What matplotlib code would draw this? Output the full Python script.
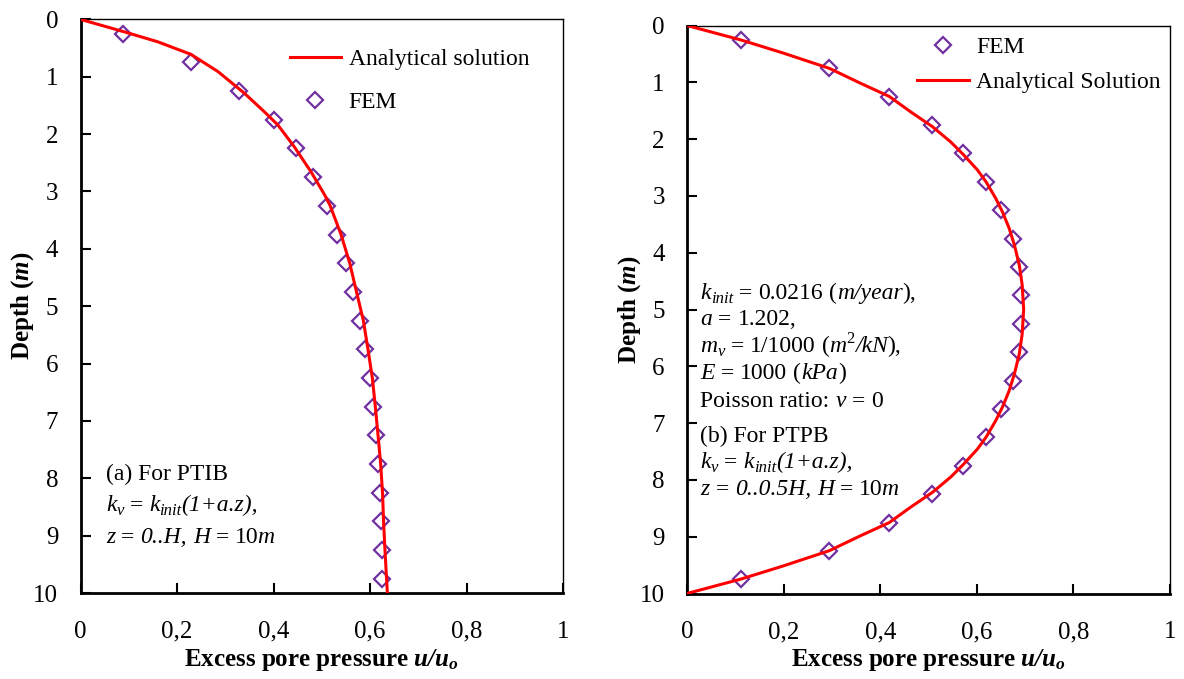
import matplotlib
matplotlib.use("Agg")
import matplotlib.pyplot as plt
from matplotlib.font_manager import FontProperties, findfont, get_font
from matplotlib.transforms import IdentityTransform

plt.rcParams['font.family'] = ['Liberation Serif', 'DejaVu Serif']
plt.rcParams['mathtext.fontset'] = 'custom'
plt.rcParams['mathtext.rm'] = 'Liberation Serif'
plt.rcParams['mathtext.it'] = 'Liberation Serif:italic'
plt.rcParams['mathtext.bf'] = 'Liberation Serif:bold'
plt.rcParams['mathtext.bfit'] = 'Liberation Serif:bold:italic'

# ---- data -------------------------------------------------------------
# FEM nodes (mid-element depths, m)
fem_depth = [0.25, 0.75, 1.25, 1.75, 2.25, 2.75, 3.25, 3.75, 4.25, 4.75,
             5.25, 5.75, 6.25, 6.75, 7.25, 7.75, 8.25, 8.75, 9.25, 9.75]

# (a) PTIB: permeable top, impermeable bottom
fem_ptib = [0.088, 0.229, 0.328, 0.402, 0.447, 0.481, 0.511, 0.532, 0.550, 0.565,
            0.580, 0.589, 0.599, 0.606, 0.612, 0.617, 0.620, 0.623, 0.624, 0.625]
ana_depth_a = [0.0, 0.21, 0.39, 0.61, 0.91, 1.29, 1.61, 1.84, 2.22, 2.66, 3.06,
               3.24, 3.75, 4.25, 4.75, 5.24, 5.76, 6.26, 6.75, 7.28, 7.74, 8.26,
               8.73, 9.25, 10.0]
ana_ptib = [0.0, 0.088, 0.160, 0.229, 0.285, 0.340, 0.381, 0.409, 0.443, 0.478,
            0.506, 0.517, 0.540, 0.558, 0.572, 0.586, 0.596, 0.605, 0.611, 0.617,
            0.622, 0.626, 0.628, 0.631, 0.636]

# (b) PTPB: permeable top and bottom
fem_ptpb = [0.112, 0.295, 0.419, 0.508, 0.572, 0.619, 0.650, 0.674, 0.687, 0.692,
            0.692, 0.687, 0.674, 0.650, 0.619, 0.572, 0.508, 0.419, 0.295, 0.112]
ana_depth_b = [0.0, 0.255, 0.49, 0.755, 1.02, 1.25, 1.52, 1.78, 2.05, 2.28, 2.54,
               2.75, 3.04, 3.28, 3.57, 3.87, 4.22, 4.57, 5.0, 5.43, 5.78, 6.13,
               6.43, 6.72, 6.96, 7.25, 7.46, 7.72, 7.95, 8.22, 8.48, 8.75, 8.98,
               9.245, 9.51, 9.745, 10.0]
ana_ptpb = [0.0, 0.112, 0.201, 0.295, 0.360, 0.419, 0.463, 0.508, 0.546, 0.573,
            0.601, 0.619, 0.639, 0.653, 0.667, 0.678, 0.688, 0.694, 0.697, 0.694,
            0.688, 0.678, 0.667, 0.653, 0.639, 0.619, 0.601, 0.573, 0.546, 0.508,
            0.463, 0.419, 0.360, 0.295, 0.201, 0.112, 0.0]

x_ticks = [0, 0.2, 0.4, 0.6, 0.8, 1.0]
x_ticklabels = ["0", "0,2", "0,4", "0,6", "0,8", "1"]
y_ticks = list(range(0, 11))

RED = "#FF0000"
PURPLE = "#7030A0"
W, H = 1184, 679
DPI = 100

fig = plt.figure(figsize=(W / DPI, H / DPI), dpi=DPI)
ax_a = fig.add_axes([80.5 / W, 1 - 593 / H, 482.5 / W, 573.6 / H])
ax_b = fig.add_axes([687 / W, 1 - 593.5 / H, 483 / W, 568 / H])


def style(ax):
    ax.set_xlim(0, 1)
    ax.set_ylim(10, 0)
    ax.set_xticks(x_ticks)
    ax.set_xticklabels(x_ticklabels)
    ax.set_yticks(y_ticks)
    ax.tick_params(axis='both', direction='in', length=7, width=1.5,
                   labelsize=18, colors='black')
    ax.tick_params(axis='x', pad=20)
    ax.tick_params(axis='y', pad=16)
    for side in ('left', 'bottom'):
        ax.spines[side].set_linewidth(2.0)
    for side in ('top', 'right'):
        ax.spines[side].set_linewidth(1.0)
    ax.set_xlabel(r"Excess pore pressure $\mathbfit{u/u_o}$",
                  fontsize=18, fontweight='bold', labelpad=3)
    ax.set_ylabel(r"Depth ($\mathbfit{m}$)", fontsize=18, fontweight='bold',
                  labelpad=-2)


style(ax_a)
style(ax_b)

marker_kw = dict(linestyle='none', marker='D', markersize=8.5,
                 markerfacecolor='none', markeredgecolor=PURPLE,
                 markeredgewidth=1.6, zorder=2)

# ---- rich text lines (italic symbols, sub/superscripts) ---------------
FS = 17
SUB_FS = 12
PX = FS * DPI / 72.0
SP = None  # word space marker


def _props(kind):
    size = FS if kind in ('rm', 'it') else SUB_FS
    style_ = 'italic' if kind in ('it', 'sub', 'sup_it') else 'normal'
    return FontProperties(family='Liberation Serif', style=style_, size=size)


def _advance(s, prop):
    font = get_font(findfont(prop))
    font.set_size(prop.get_size_in_points(), DPI)
    return sum(font.load_char(ord(ch)).linearHoriAdvance / 65536.0 for ch in s)


def rich_line(ax, x_ax, y_ax, segs):
    x, y = ax.transAxes.transform((x_ax, y_ax))
    space = _advance(" ", _props('rm'))
    for seg in segs:
        if seg is SP:
            x += space
            continue
        if isinstance(seg, (int, float)):
            x += seg  # small kern, pixels
            continue
        s, kind = seg
        prop = _props(kind)
        dy = 0.0
        if kind == 'sub':
            dy = -0.17 * PX
        elif kind in ('sup', 'sup_it'):
            dy = 0.38 * PX
        fig.text(x, y + dy, s, fontproperties=prop, transform=IdentityTransform(),
                 va='baseline', ha='left')
        x += _advance(s, prop)


kv_line = [("k", "it"), ("v", "sub"), SP, ("=", "rm"), SP, ("k", "it"),
           ("init", "sub"), ("(1+a.z),", "it")]

# (a)
ax_a.plot(ana_ptib, ana_depth_a, color=RED, lw=2.2, label="Analytical solution",
          zorder=3)
ax_a.plot(fem_ptib, fem_depth, label="FEM", **marker_kw)
ax_a.legend(loc='upper right', bbox_to_anchor=(0.959, 0.974), frameon=False,
            fontsize=17, handlelength=2.2, handletextpad=0.3,
            labelspacing=0.92, borderaxespad=0.2)

lines_a = [([("(a) For PTIB", "rm")], 480.5),
           (kv_line, 511),
           ([("z", "it"), SP, ("=", "rm"), SP, ("0..H,", "it"), SP, ("H", "it"),
             SP, ("=", "rm"), SP, ("10", "rm"), -2, ("m", "it")], 543)]
for segs, y in lines_a:
    rich_line(ax_a, 25.5 / 482.5, (593 - y) / 573.6, segs)

# (b)
ax_b.plot(fem_ptpb, fem_depth, label="FEM", **marker_kw)
ax_b.plot(ana_ptpb, ana_depth_b, color=RED, lw=2.2, label="Analytical Solution",
          zorder=3)
ax_b.legend(loc='upper right', bbox_to_anchor=(1.01, 1.006), frameon=False,
            fontsize=17, handlelength=2.2, handletextpad=0.3,
            labelspacing=0.58, borderaxespad=0.2)

lines_b = [([("k", "it"), ("init", "sub"), SP, ("=", "rm"), SP, ("0.0216", "rm"),
             SP, ("(", "rm"), ("m/year", "it"), ("),", "rm")], 299.3),
           ([("a", "it"), SP, ("=", "rm"), SP, ("1.202,", "rm")], 325),
           ([("m", "it"), ("v", "sub"), SP, ("=", "rm"), SP, ("1/1000", "rm"), SP,
             ("(", "rm"), ("m", "it"), ("2", "sup"), ("/kN", "it"), ("),", "rm")],
            351.7),
           ([("E", "it"), SP, ("=", "rm"), SP, ("1000", "rm"), SP, ("(", "rm"),
             ("kPa", "it"), (")", "rm")], 379),
           ([("Poisson ratio:", "rm"), SP, ("v", "it"), SP, ("=", "rm"), SP,
             ("0", "rm")], 406.7),
           ([("(b) For PTPB", "rm")], 441.7),
           (kv_line, 468.3),
           ([("z", "it"), SP, ("=", "rm"), SP, ("0..0.5H,", "it"), SP, ("H", "it"),
             SP, ("=", "rm"), SP, ("10", "rm"), -2, ("m", "it")], 495)]
for segs, y in lines_b:
    rich_line(ax_b, 13.5 / 483, (593.5 - y) / 568, segs)

fig.savefig("out.png", dpi=DPI)
